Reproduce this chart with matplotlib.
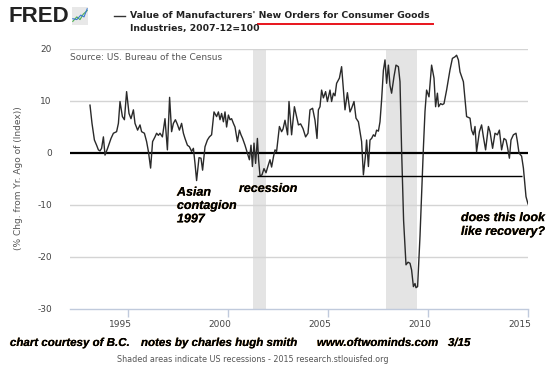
import matplotlib
matplotlib.use("Agg")
import matplotlib.pyplot as plt
import matplotlib.patheffects as pe
import matplotlib.transforms as mtransforms

# ---- data (decimal year, % change from year ago) ----
years = [
    1993.10, 1993.20, 1993.32, 1993.43, 1993.52, 1993.60, 1993.68, 1993.77, 1993.85,
    1993.98, 1994.15, 1994.27, 1994.43, 1994.52, 1994.60, 1994.72, 1994.82, 1994.93,
    1995.05, 1995.15, 1995.27, 1995.35, 1995.48, 1995.60, 1995.68, 1995.82, 1995.93,
    1996.02, 1996.13, 1996.23, 1996.35, 1996.43, 1996.52, 1996.60, 1996.72, 1996.85,
    1996.97, 1997.08, 1997.18, 1997.27, 1997.37, 1997.47, 1997.57, 1997.68, 1997.77,
    1997.85, 1997.97, 1998.07, 1998.18, 1998.27, 1998.35, 1998.43, 1998.55, 1998.65,
    1998.73, 1998.85, 1998.97, 1999.07, 1999.18, 1999.30, 1999.43, 1999.52, 1999.60,
    1999.68, 1999.77, 1999.85, 1999.93, 2000.02, 2000.10, 2000.18, 2000.27, 2000.35,
    2000.47, 2000.57, 2000.65, 2000.73, 2000.85, 2000.97, 2001.07, 2001.15, 2001.22,
    2001.30, 2001.38, 2001.47, 2001.53, 2001.60, 2001.70, 2001.80, 2001.90, 2002.00,
    2002.10, 2002.18, 2002.28, 2002.35, 2002.43, 2002.57, 2002.68, 2002.75, 2002.85,
    2002.98, 2003.05, 2003.18, 2003.32, 2003.52, 2003.63, 2003.75, 2003.88, 2004.00,
    2004.10, 2004.23, 2004.35, 2004.45, 2004.52, 2004.60, 2004.68, 2004.77, 2004.88,
    2004.97, 2005.10, 2005.18, 2005.27, 2005.35, 2005.43, 2005.57, 2005.68, 2005.77,
    2005.85, 2005.97, 2006.10, 2006.18, 2006.30, 2006.40, 2006.52, 2006.68, 2006.77,
    2006.87, 2006.93, 2007.02, 2007.10, 2007.18, 2007.27, 2007.35, 2007.43, 2007.52,
    2007.60, 2007.68, 2007.77, 2007.85, 2007.93, 2008.02, 2008.10, 2008.18, 2008.30,
    2008.40, 2008.52, 2008.60, 2008.68, 2008.78, 2008.90, 2009.00, 2009.10, 2009.18,
    2009.27, 2009.35, 2009.40, 2009.48, 2009.60, 2009.68, 2009.77, 2009.85, 2009.93,
    2010.05, 2010.18, 2010.30, 2010.38, 2010.47, 2010.53, 2010.63, 2010.72, 2010.80,
    2010.93, 2011.10, 2011.22, 2011.35, 2011.43, 2011.52, 2011.60, 2011.77, 2011.93,
    2012.10, 2012.18, 2012.27, 2012.35, 2012.43, 2012.57, 2012.68, 2012.77, 2012.88,
    2013.02, 2013.10, 2013.23, 2013.35, 2013.47, 2013.57, 2013.68, 2013.80, 2013.90,
    2013.97, 2014.07, 2014.15, 2014.27, 2014.40, 2014.47, 2014.55, 2014.68, 2014.77,
    2014.90, 2015.00,
]
values = [
    9.2, 5.7, 2.5, 1.5, 0.6, 0.4, 0.9, 3.1, -0.4,
    0.9, 2.8, 3.8, 4.1, 5.7, 9.9, 7.0, 6.4, 11.8,
    7.6, 6.6, 8.3, 5.7, 4.4, 5.4, 4.1, 3.8, 2.2,
    0.3, -2.9, 2.2, 3.1, 3.8, 3.4, 3.8, 3.1, 6.6,
    0.6, 10.7, 4.1, 5.7, 6.4, 5.5, 4.4, 5.7, 3.8,
    2.8, 1.5, 1.2, 0.3, 0.9, -2.0, -5.3, -0.9, -1.0,
    -3.3, 1.2, 2.5, 3.1, 3.5, 7.9, 7.0, 7.9, 6.4,
    7.6, 6.0, 7.9, 5.0, 7.3, 6.4, 6.6, 5.7, 5.0,
    2.2, 4.4, 3.5, 2.8, 1.5, 0.0, -1.3, 1.5, -2.6,
    1.9, -2.0, 2.8, -1.3, -4.4, -4.2, -3.0, -3.8, -2.5,
    -1.3, -2.7, -0.6, 0.6, 0.3, 5.1, 4.1, 4.6, 6.3,
    3.5, 9.9, 3.5, 8.9, 5.4, 5.6, 4.7, 3.1, 3.8,
    8.3, 8.6, 6.3, 2.8, 8.3, 8.9, 12.1, 10.6, 11.8,
    9.9, 12.1, 9.9, 11.5, 11.0, 13.4, 14.4, 16.6, 12.1,
    8.3, 11.6, 7.9, 8.6, 9.9, 6.7, 6.0, 2.2, -4.2,
    -0.6, 2.5, -2.6, 2.5, 2.8, 3.5, 3.2, 4.4, 4.2,
    6.0, 10.2, 15.9, 17.9, 13.4, 16.9, 13.0, 11.5, 14.7,
    16.9, 16.6, 13.7, 0.6, -13.0, -21.5, -21.0, -21.2, -22.5,
    -25.7, -25.1, -25.9, -25.7, -16.0, -8.0, 1.0, 8.0, 12.1,
    10.8, 16.9, 14.4, 8.9, 11.5, 8.9, 9.5, 9.3, 9.5,
    12.1, 16.0, 18.2, 18.5, 18.8, 17.9, 15.6, 13.7, 7.0,
    6.7, 4.4, 3.5, 5.1, 0.25, 4.1, 5.4, 3.1, 0.6,
    5.1, 4.1, 0.9, 3.8, 3.5, 4.4, 0.6, 2.8, 2.5,
    1.2, -1.0, 2.5, 3.5, 3.8, 2.2, 0.0, -0.6, -2.9,
    -8.4, -9.8,
]

recessions = [(2001.25, 2001.90), (2007.92, 2009.45)]
support_level = -4.4
support_span = (2001.47, 2014.68)
xticks = [1995, 2000, 2005, 2010, 2015]
yticks = [-30, -20, -10, 0, 10, 20]

fig = plt.figure(figsize=(5.5, 3.65), dpi=100)
fig.patch.set_facecolor("white")
ax = fig.add_axes([70 / 550, 1 - 309 / 365, 458 / 550, 260 / 365])
ax.set_xlim(1992.1, 2015.0)
ax.set_ylim(-30, 20)

for a, b in recessions:
    ax.axvspan(a, b, color="#e4e4e4", lw=0, zorder=0)

for y in [-20, -10, 10, 20]:
    ax.axhline(y, color="#d4d4d4", lw=1.0, zorder=1)

ax.axhline(0, color="black", lw=1.6, zorder=2)
ax.plot(years, values, color="#2a2a2a", lw=1.0, zorder=3)
ax.hlines(support_level, support_span[0], support_span[1], color="black", lw=1.0, zorder=3)

for s in ["left", "right", "top"]:
    ax.spines[s].set_visible(False)
ax.spines["bottom"].set_color("#c0cadc")
ax.spines["bottom"].set_linewidth(1.0)

ax.set_xticks(xticks)
ax.set_xticklabels([str(t) for t in xticks])
ax.tick_params(axis="x", colors="#c0cadc", length=6, width=1, labelsize=6.5,
               labelcolor="#444444", pad=2)
offset = mtransforms.ScaledTranslation(-8 / 100, 0, fig.dpi_scale_trans)
for lab in ax.get_xticklabels():
    lab.set_transform(lab.get_transform() + offset)

ax.set_yticks(yticks)
ax.set_yticklabels([str(t) for t in yticks])
ax.tick_params(axis="y", length=0, labelsize=6.5, labelcolor="#444444", pad=13)

fig.text(19 / 550, 1 - 178 / 365, "(% Chg. from Yr. Ago of (Index))", rotation=90,
         ha="center", va="center", fontsize=6.5, color="#555555")

fig.text(70 / 550, 1 - 58 / 365, "Source: US. Bureau of the Census", ha="left",
         va="center", fontsize=6.5, color="#555555")

# header
fig.text(8 / 550, 1 - 16 / 365, "FRED", family="Liberation Sans", weight="bold",
         fontsize=16, color="#222222", ha="left", va="center")
# small logo icon
icon = fig.add_axes([72 / 550, 1 - 25 / 365, 16 / 550, 18 / 365])
icon.set_xlim(0, 1)
icon.set_ylim(0, 1)
icon.axis("off")
icon.add_patch(plt.Rectangle((0, 0), 1, 1, color="#e8e8e8"))
icon.plot([0.05, 0.3, 0.5, 0.7, 0.95], [0.2, 0.45, 0.3, 0.6, 0.8], color="#4caf50", lw=0.8)
icon.plot([0.05, 0.3, 0.55, 0.75, 0.95], [0.35, 0.3, 0.55, 0.45, 0.9], color="#3b7bd0", lw=0.8)

fig.add_artist(plt.Line2D([114 / 550, 125 / 550], [1 - 16 / 365, 1 - 16 / 365],
                          color="#333333", lw=1.0))
fig.text(130 / 550, 1 - 16 / 365, "Value of Manufacturers' New Orders for Consumer Goods",
         ha="left", va="center", fontsize=6.65, weight="bold", color="#222222")
fig.text(130 / 550, 1 - 29 / 365, "Industries, 2007-12=100",
         ha="left", va="center", fontsize=6.65, weight="bold", color="#222222")
fig.add_artist(plt.Line2D([258 / 550, 433 / 550], [1 - 23.5 / 365, 1 - 23.5 / 365],
                          color="#e8141c", lw=1.4))

# annotations
shadow = [pe.withSimplePatchShadow(offset=(-0.4, 0.0), shadow_rgbFace="#d9901c", alpha=0.6),
          pe.Normal()]
afont = dict(family="Liberation Sans", weight="bold", style="italic", fontsize=9,
             color="black", ha="left", va="center", path_effects=shadow)
fig.text(177 / 550, 1 - 206 / 365, "Asian\ncontagion\n1997", linespacing=1.15, **afont)
fig.text(239 / 550, 1 - 189 / 365, "recession", **afont)
fig.text(461 / 550, 1 - 225 / 365, "does this look\nlike recovery?", linespacing=1.2, **afont)

foot = dict(family="Liberation Sans", weight="bold", style="italic", fontsize=8.3,
            color="black", ha="left", va="center", path_effects=shadow)
fig.text(10 / 550, 1 - 343 / 365, "chart courtesy of B.C.", **foot)
fig.text(141 / 550, 1 - 343 / 365, "notes by charles hugh smith", **foot)
fig.text(317 / 550, 1 - 343 / 365, "www.oftwominds.com", **foot)
fig.text(448 / 550, 1 - 343 / 365, "3/15", **foot)

fig.text(253 / 550, 1 - 359 / 365,
         "Shaded areas indicate US recessions - 2015 research.stlouisfed.org",
         ha="center", va="center", fontsize=5.8, color="#555555")

fig.savefig("out.png", dpi=100)
